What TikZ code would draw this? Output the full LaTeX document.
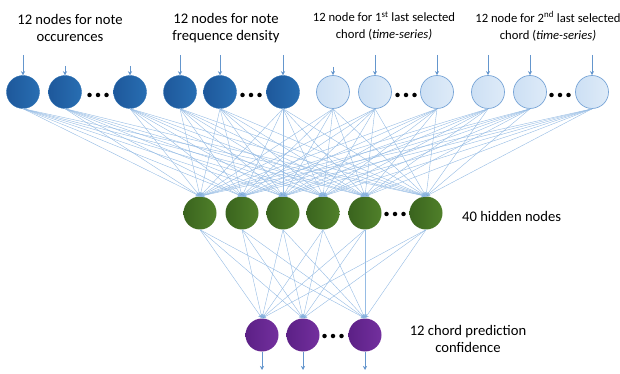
\documentclass[tikz,border=0pt]{standalone}
\usepackage{fontspec}
\setmainfont{Carlito}
\usetikzlibrary{arrows.meta}

\definecolor{darkblue}{RGB}{40,110,178}
\definecolor{darkblueB}{RGB}{30,88,155}
\definecolor{paleblue}{RGB}{222,235,248}
\definecolor{paleblueB}{RGB}{205,224,244}
\definecolor{rimblue}{RGB}{120,165,215}
\definecolor{leafgreen}{RGB}{80,128,42}
\definecolor{leafgreenB}{RGB}{58,100,30}
\definecolor{grape}{RGB}{115,48,158}
\definecolor{grapeB}{RGB}{92,32,134}
\definecolor{wire}{RGB}{150,188,228}
\definecolor{feed}{RGB}{100,150,205}

\tikzset{
  neuron/.style={circle, minimum size=33*0.03cm, inner sep=0pt},
  inblue/.style={neuron, left color=darkblueB, right color=darkblue, draw=darkblue, line width=0.3pt},
  inpale/.style={neuron, left color=paleblueB, right color=paleblue, draw=rimblue, line width=0.6pt},
  hidden/.style={neuron, left color=leafgreenB, right color=leafgreen},
  outnode/.style={neuron, left color=grapeB, right color=grape},
  wireline/.style={draw=wire, line width=0.35pt, -{Stealth[length=3.5pt,width=3.5pt,fill=feed]}},
  feedarrow/.style={draw=feed, line width=0.5pt, -{Stealth[length=3.5pt,width=3.5pt]}},
  dot/.style={circle, fill=black, minimum size=4.5*0.03cm, inner sep=0pt},
  caption/.style={align=center, font=\fontsize{12.5}{15}\selectfont},
  smallcaption/.style={align=center, font=\fontsize{10.8}{14.5}\selectfont}
}

\begin{document}
\begin{tikzpicture}[x=0.03cm, y=-0.03cm]
  \useasboundingbox (0,0) rectangle (620,374);

  % labels
  \node[caption] (la) at (70,28) {12 nodes for note\\occurences};
  \node[caption] (lb) at (226,28) {12 nodes for note\\frequence density};
  \node[smallcaption] (lc) at (384,26) {12 node for 1\textsuperscript{st} last selected\\chord (\textit{time-series)}};
  \node[smallcaption] (ld) at (548,26) {12 node for 2\textsuperscript{nd} last selected\\chord (\textit{time-series)}};
  \node[caption, anchor=west] (lh) at (458,216) {40 hidden nodes};
  \node[caption] (lo) at (468,339) {12 chord prediction\\confidence};

  % input layer
  \node[inblue] (i1) at (23,92) {};
  \node[inblue] (i2) at (65,92) {};
  \node[inblue] (i3) at (130,92) {};
  \node[inblue] (i4) at (180,92) {};
  \node[inblue] (i5) at (220,92) {};
  \node[inblue] (i6) at (283,92) {};
  \node[inpale] (i7) at (333,92) {};
  \node[inpale] (i8) at (375,92) {};
  \node[inpale] (i9) at (437,92) {};
  \node[inpale] (i10) at (488,92) {};
  \node[inpale] (i11) at (530,92) {};
  \node[inpale] (i12) at (592,92) {};

  % hidden layer
  \node[hidden] (h1) at (200,213) {};
  \node[hidden] (h2) at (242,213) {};
  \node[hidden] (h3) at (283,213) {};
  \node[hidden] (h4) at (323,213) {};
  \node[hidden] (h5) at (365,213) {};
  \node[hidden] (h6) at (426,213) {};

  % output layer
  \node[outnode] (o1) at (262,335) {};
  \node[outnode] (o2) at (303,335) {};
  \node[outnode] (o3) at (365,335) {};

  % ellipsis dots
  \foreach \g/\x/\y in {a/98/95, b/251/95, c/406/95, d/560/95, e/395/214, f/333/336}{
    \node[dot] (\g1) at (\x-8.5,\y) {};
    \node[dot] (\g2) at (\x,\y) {};
    \node[dot] (\g3) at (\x+8.5,\y) {};
  }

  % incoming arrows
  \foreach \n/\y in {1/55, 2/66, 3/66, 4/55, 5/55, 6/55, 7/67, 8/55, 9/55, 10/55, 11/55, 12/55}{
    \coordinate (t\n) at (i\n.north |- 0,\y);
    \draw[feedarrow] (t\n) -- (i\n.north);
  }

  % input to hidden
  \foreach \a in {1,...,12}
    \foreach \b in {1,...,6}
      \draw[wireline] (i\a.south) -- (h\b.north);

  % hidden to output
  \foreach \a in {1,...,6}
    \foreach \b in {1,2,3}
      \draw[wireline] (h\a.south) -- (o\b.north);

  % outgoing arrows
  \foreach \n in {1,2,3}{
    \coordinate (u\n) at (o\n.south |- 0,370);
    \draw[feedarrow] (o\n.south) -- (u\n);
  }
\end{tikzpicture}
\end{document}
